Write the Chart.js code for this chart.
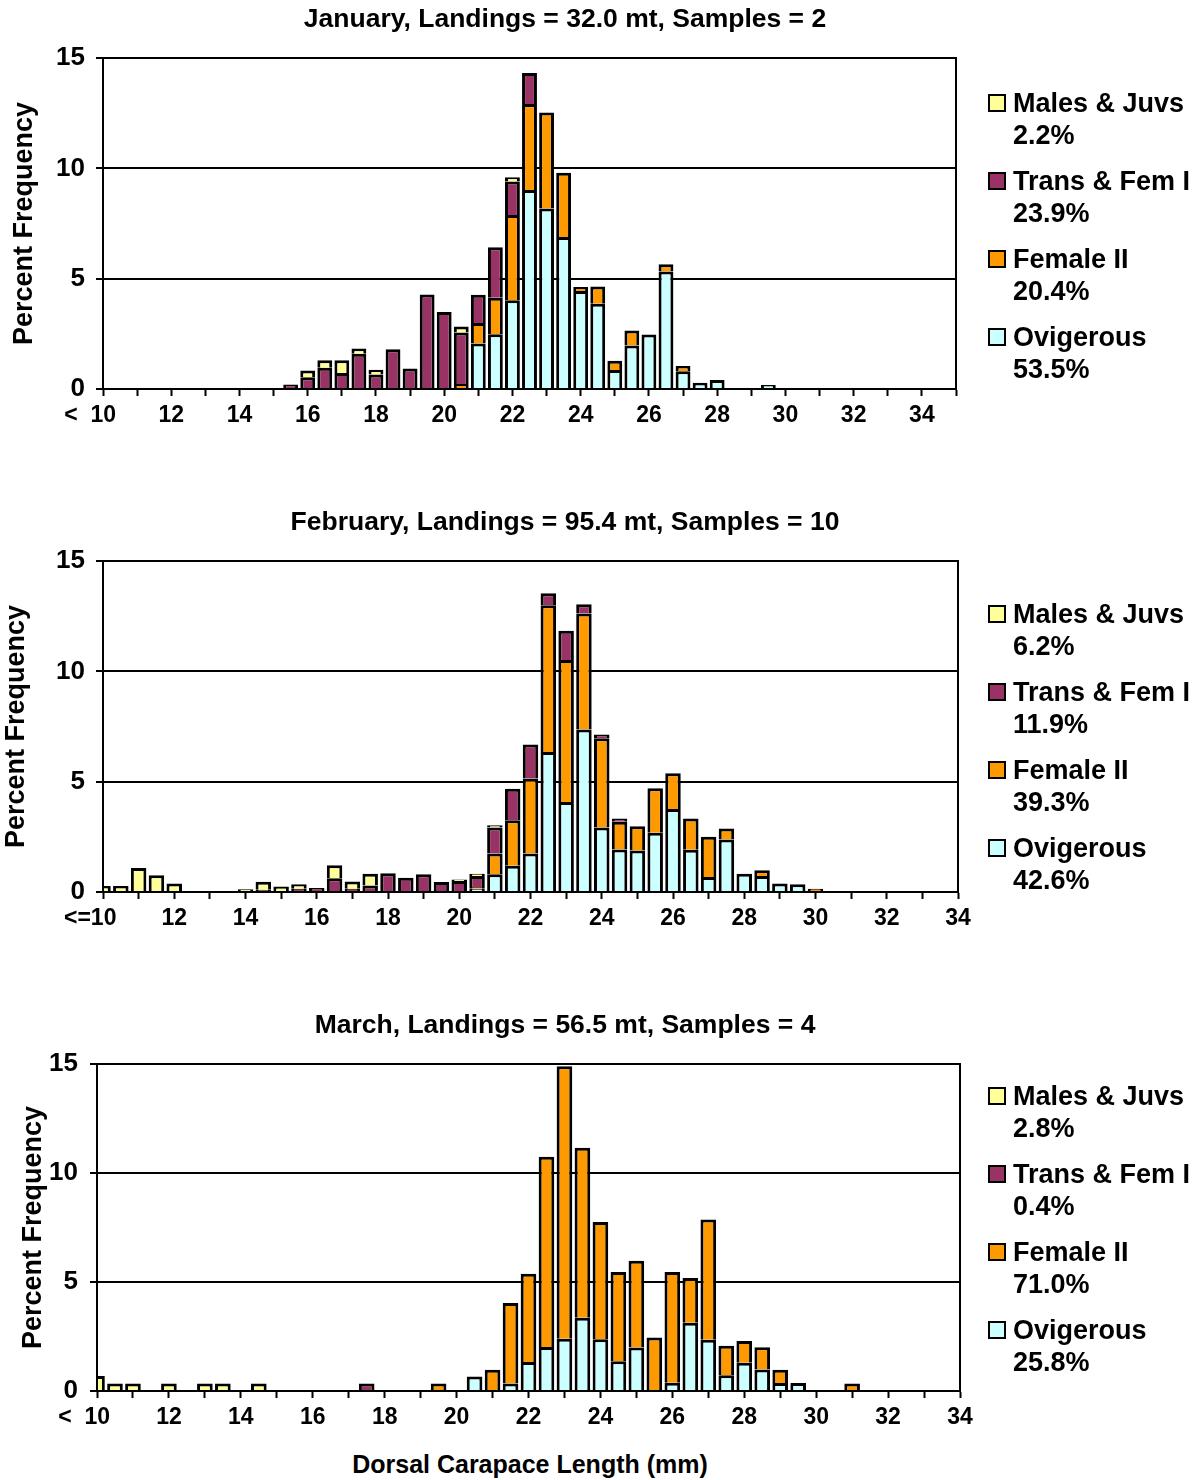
<!DOCTYPE html>
<html>
<head>
<meta charset="utf-8">
<script src="https://cdn.jsdelivr.net/npm/chart.js@4.4.1/dist/chart.umd.min.js"></script>
<style>
  html, body { margin: 0; padding: 0; background: #fff; }
  body { width: 1202px; height: 1480px; position: relative; overflow: hidden;
         font-family: "Liberation Sans", Arial, sans-serif; color: #000; }
  canvas { position: absolute; left: 0; }
  .legend { position: absolute; left: 987px; font-weight: bold; font-size: 27px; }
  .item { position: absolute; left: 0; white-space: nowrap; }
  .sw { position: absolute; left: 1px; width: 14px; height: 14px; border: 2px solid #000; }
  .txt { position: absolute; left: 26px; line-height: 32px; }
  #xtitle { position: absolute; left: 0; width: 1060px; top: 1450px; text-align: center;
            font-weight: bold; font-size: 25px; }
</style>
</head>
<body>
<canvas id="janChart" width="1130" height="440" style="top:0px"></canvas>
<canvas id="febChart" width="1130" height="440" style="top:503px"></canvas>
<canvas id="marChart" width="1130" height="436" style="top:1006px"></canvas>
<div class="legend" id="janLegend" style="top:87px"></div>
<div class="legend" id="febLegend" style="top:598px"></div>
<div class="legend" id="marLegend" style="top:1080px"></div>
<div id="xtitle">Dorsal Carapace Length (mm)</div>

<script>
// Dorsal carapace length classes (mm), 0.5 mm steps
const lengthBins = [10, 10.5, 11, 11.5, 12, 12.5, 13, 13.5, 14, 14.5, 15, 15.5, 16, 16.5, 17, 17.5,
  18, 18.5, 19, 19.5, 20, 20.5, 21, 21.5, 22, 22.5, 23, 23.5, 24, 24.5, 25, 25.5, 26, 26.5,
  27, 27.5, 28, 28.5, 29, 29.5, 30, 30.5, 31, 31.5, 32, 32.5, 33, 33.5, 34, 34.5, 35];

const seriesNames = ['Males & Juvs', 'Trans & Fem I', 'Female II', 'Ovigerous'];
const seriesColors = ['#FFFF99', '#993366', '#FF9900', '#CCFFFF'];

// ---- January ----
const janTitle = 'January, Landings = 32.0 mt, Samples = 2';
const janTickLabels = ['<  10    ', '12', '14', '16', '18', '20', '22', '24', '26', '28', '30', '32', '34'];
const janBins   = [15.5, 16, 16.5, 17, 17.5, 18, 18.5, 19, 19.5, 20, 20.5, 21, 21.5, 22, 22.5, 23, 23.5, 24, 24.5, 25, 25.5, 26, 26.5, 27, 27.5, 28, 29.5];
const janMales  = [0, 0.31, 0.34, 0.57, 0.23, 0.21, 0, 0, 0, 0, 0.27, 0, 0, 0.20, 0, 0, 0, 0, 0, 0, 0, 0, 0, 0, 0, 0, 0];
const janTrans  = [0.20, 0.53, 0.96, 0.73, 1.60, 0.66, 1.80, 0.93, 4.28, 3.49, 2.33, 1.28, 2.29, 1.52, 1.41, 0, 0, 0, 0, 0, 0, 0, 0, 0, 0, 0, 0];
const janFemII  = [0, 0, 0, 0, 0, 0, 0, 0, 0, 0, 0.23, 0.93, 1.65, 3.86, 3.89, 4.35, 2.91, 0.18, 0.79, 0.42, 0.68, 0, 0.33, 0.23, 0, 0, 0];
const janOvig   = [0, 0, 0, 0, 0, 0, 0, 0, 0, 0, 0, 2.06, 2.48, 4.02, 9.02, 8.18, 6.89, 4.44, 3.86, 0.86, 1.97, 2.47, 5.32, 0.81, 0.28, 0.41, 0.18];
const janPercents = ['2.2%', '23.9%', '20.4%', '53.5%'];

// ---- February ----
const febTitle = 'February, Landings = 95.4 mt, Samples = 10';
const febTickLabels = ['<=10    ', '12', '14', '16', '18', '20', '22', '24', '26', '28', '30', '32', '34'];
const febBins   = [10, 10.5, 11, 11.5, 12, 14, 14.5, 15, 15.5, 16, 16.5, 17, 17.5, 18, 18.5, 19, 19.5, 20, 20.5, 21, 21.5, 22, 22.5, 23, 23.5, 24, 24.5, 25, 25.5, 26, 26.5, 27, 27.5, 28, 28.5, 29, 29.5, 30];
const febMales  = [0.27, 0.27, 1.09, 0.76, 0.39, 0.12, 0.36, 0.20, 0.20, 0, 0.59, 0.33, 0.53, 0, 0, 0, 0, 0.07, 0.10, 0.10, 0, 0, 0, 0, 0, 0, 0, 0, 0, 0, 0, 0, 0, 0, 0, 0, 0, 0];
const febTrans  = [0, 0, 0, 0, 0, 0, 0.10, 0.05, 0.15, 0.18, 0.62, 0.15, 0.30, 0.85, 0.65, 0.80, 0.45, 0.50, 0.50, 1.17, 1.43, 1.54, 0.54, 1.33, 0.42, 0.17, 0.15, 0, 0, 0, 0, 0, 0, 0, 0, 0, 0, 0];
const febFemII  = [0, 0, 0, 0, 0, 0, 0, 0, 0, 0, 0, 0, 0, 0, 0, 0, 0, 0, 0.08, 0.95, 2.06, 3.39, 6.66, 6.43, 5.26, 4.05, 1.25, 1.10, 2.02, 1.62, 1.41, 1.82, 0.50, 0, 0.26, 0, 0, 0.15];
const febOvig   = [0, 0, 0, 0, 0, 0, 0, 0, 0, 0, 0, 0, 0, 0, 0, 0, 0, 0, 0.15, 0.80, 1.19, 1.75, 6.34, 4.08, 7.36, 2.92, 1.93, 1.88, 2.68, 3.76, 1.92, 0.68, 2.38, 0.83, 0.73, 0.38, 0.35, 0];
const febPercents = ['6.2%', '11.9%', '39.3%', '42.6%'];

// ---- March ----
const marTitle = 'March, Landings = 56.5 mt, Samples = 4';
const marTickLabels = ['<  10    ', '12', '14', '16', '18', '20', '22', '24', '26', '28', '30', '32', '34'];
const marBins   = [10, 10.5, 11, 12, 13, 13.5, 14.5, 17.5, 19.5, 20.5, 21, 21.5, 22, 22.5, 23, 23.5, 24, 24.5, 25, 25.5, 26, 26.5, 27, 27.5, 28, 28.5, 29, 29.5, 31];
const marMales  = [0.69, 0.34, 0.34, 0.34, 0.34, 0.34, 0.34, 0, 0, 0, 0, 0, 0, 0, 0, 0, 0, 0, 0, 0, 0, 0, 0, 0, 0, 0, 0, 0, 0];
const marTrans  = [0, 0, 0, 0, 0, 0, 0, 0.34, 0, 0, 0, 0, 0, 0, 0, 0, 0, 0, 0, 0, 0, 0, 0, 0, 0, 0, 0, 0, 0];
const marFemII  = [0, 0, 0, 0, 0, 0, 0, 0, 0.34, 0, 0.98, 3.70, 4.05, 8.72, 12.50, 7.80, 5.38, 4.10, 3.98, 2.45, 5.08, 2.05, 5.52, 1.35, 0.99, 1.02, 0.61, 0, 0.34];
const marOvig   = [0, 0, 0, 0, 0, 0, 0, 0, 0, 0.66, 0, 0.34, 1.33, 2.02, 2.40, 3.36, 2.37, 1.36, 1.99, 0, 0.38, 3.13, 2.35, 0.72, 1.30, 0.99, 0.37, 0.37, 0];
const marPercents = ['2.8%', '0.4%', '71.0%', '25.8%'];

const FONT = '"Liberation Sans", Arial, sans-serif';

// spread sparse class values over the full axis; empty classes stay blank
function spread(axisBins, bins, values) {
  return axisBins.map(b => {
    const i = bins.indexOf(b);
    return (i >= 0 && values[i] > 0) ? values[i] : null;
  });
}

// black box around the plotting area
const plotFrame = {
  id: 'plotFrame',
  afterDatasetsDraw(chart) {
    const {ctx, chartArea: a} = chart;
    ctx.save();
    ctx.strokeStyle = '#000';
    ctx.lineWidth = 2;
    ctx.strokeRect(a.left, a.top, a.right - a.left, a.bottom - a.top);
    ctx.restore();
  }
};

// panel heading, centred over the plot and legend block
const panelHeading = {
  id: 'panelHeading',
  afterDraw(chart, args, opts) {
    const {ctx} = chart;
    ctx.save();
    ctx.fillStyle = '#000';
    ctx.font = 'bold 26.5px ' + FONT;
    ctx.textAlign = 'center';
    ctx.textBaseline = 'middle';
    ctx.fillText(opts.text, opts.x, opts.y);
    ctx.restore();
  }
};

function drawPanel(id, p) {
  const axisBins = lengthBins.slice(0, lengthBins.indexOf(p.lastBin) + 1);
  const stackOrder = [
    [3, p.ovig], [2, p.femII], [1, p.trans], [0, p.males]
  ];
  const datasets = stackOrder.map(([k, vals]) => ({
    label: seriesNames[k],
    data: spread(axisBins, p.bins, vals),
    backgroundColor: seriesColors[k],
    borderColor: '#000',
    borderWidth: 3,
    borderSkipped: 'start',
    barPercentage: 0.87,
    categoryPercentage: 1,
    clip: 0
  }));

  new Chart(document.getElementById(id), {
    type: 'bar',
    data: { labels: axisBins.map(String), datasets },
    options: {
      responsive: false,
      animation: false,
      events: [],
      layout: { padding: { left: 0, right: 1130 - p.right, top: 58, bottom: 0 } },
      plugins: {
        legend: { display: false },
        tooltip: { enabled: false },
        title: { display: false },
        panelHeading: { text: p.title, x: 565, y: 20 }
      },
      scales: {
        x: {
          stacked: true,
          offset: false,
          grid: {
            display: true, offset: false, drawOnChartArea: false,
            tickLength: 7, tickWidth: 2,
            tickColor: c => (c.index % 2 === 0 ? '#000' : 'rgba(0,0,0,0)')
          },
          border: { display: true, color: '#000', width: 2 },
          ticks: {
            autoSkip: false, maxRotation: 0, minRotation: 0, padding: 6,
            color: '#000', font: { family: FONT, size: 23, weight: 'bold' },
            callback: (v, i) => (i % 4 === 0 && p.ticks[i / 4] !== undefined ? p.ticks[i / 4] : '')
          },
          afterFit: s => { s.height = 51; }
        },
        y: {
          stacked: true, min: 0, max: 15,
          grid: { color: '#000', lineWidth: 2, tickLength: 7, tickColor: '#000' },
          border: { display: true, color: '#000', width: 2 },
          ticks: {
            stepSize: 5, padding: p.tickPad, color: '#000',
            font: { family: FONT, size: 26, weight: 'bold' }
          },
          title: {
            display: true, text: 'Percent Frequency', color: '#000',
            font: { family: FONT, size: 27, weight: 'bold', lineHeight: 1.2 },
            padding: { top: p.yTitlePad, bottom: 0 }
          },
          afterFit: s => { s.width = p.left; }
        }
      }
    },
    plugins: [plotFrame, panelHeading]
  });
}

function buildLegend(id, percents) {
  const box = document.getElementById(id);
  seriesNames.forEach((name, k) => {
    const item = document.createElement('div');
    item.className = 'item';
    item.style.top = (k * 78) + 'px';
    const sw = document.createElement('div');
    sw.className = 'sw';
    sw.style.background = seriesColors[k];
    sw.style.top = '7px';
    const txt = document.createElement('div');
    txt.className = 'txt';
    txt.appendChild(document.createTextNode(name));
    txt.appendChild(document.createElement('br'));
    txt.appendChild(document.createTextNode(percents[k]));
    item.appendChild(sw);
    item.appendChild(txt);
    box.appendChild(item);
  });
}

drawPanel('janChart', { title: janTitle, ticks: janTickLabels, bins: janBins, males: janMales, trans: janTrans,
  femII: janFemII, ovig: janOvig, lastBin: 35, left: 103, right: 956, tickPad: 11, yTitlePad: 8 });
drawPanel('febChart', { title: febTitle, ticks: febTickLabels, bins: febBins, males: febMales, trans: febTrans,
  femII: febFemII, ovig: febOvig, lastBin: 34, left: 103, right: 958, tickPad: 11, yTitlePad: 0 });
drawPanel('marChart', { title: marTitle, ticks: marTickLabels, bins: marBins, males: marMales, trans: marTrans,
  femII: marFemII, ovig: marOvig, lastBin: 34, left: 97, right: 960, tickPad: 12, yTitlePad: 17 });

buildLegend('janLegend', janPercents);
buildLegend('febLegend', febPercents);
buildLegend('marLegend', marPercents);
</script>
</body>
</html>
